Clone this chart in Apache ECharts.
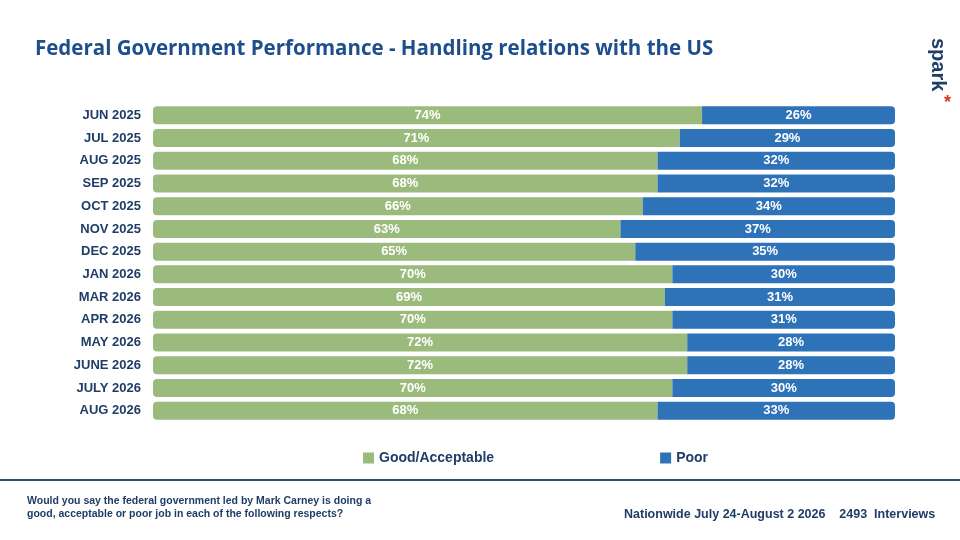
<!DOCTYPE html>
<html>
<head>
<meta charset="utf-8">
<script src="https://cdn.jsdelivr.net/npm/echarts@6/dist/echarts.min.js"></script>
<style>
  html, body { margin: 0; padding: 0; background: #fff; }
  #container { width: 960px; height: 540px; }
</style>
</head>
<body>
<div id="container"></div>
<script>
// 数据
var months = ["JUN 2025", "JUL 2025", "AUG 2025", "SEP 2025", "OCT 2025", "NOV 2025", "DEC 2025",
    "JAN 2026", "MAR 2026", "APR 2026", "MAY 2026", "JUNE 2026", "JULY 2026", "AUG 2026"];
var good = [74, 71, 68, 68, 66, 63, 65, 70, 69, 70, 72, 72, 70, 68];
var poor = [26, 29, 32, 32, 34, 37, 35, 30, 31, 31, 28, 28, 30, 33];

// 蓝色部分填满剩余宽度，标签显示原始值
var goodData = good.map(function (v) { return { value: v, raw: v }; });
var poorData = poor.map(function (v, i) { return { value: 100 - good[i], raw: v }; });

var dom = document.getElementById("container");
var myChart = echarts.init(dom);
var label = {
    show: true,
    position: 'inside',
    color: '#fff',
    fontFamily: 'Liberation Sans',
    fontWeight: 'bold',
    fontSize: 13,
    formatter: function (p) { return p.data.raw + '%'; }
};
var option = {
    animation: false,
    title: {
        text: 'Federal Government Performance - Handling relations with the US',
        left: 30, top: 34,
        textStyle: { color: '#1f4e8c', fontSize: 20.5, fontWeight: 'bold', fontFamily: 'Open Sans' }
    },
    legend: {
        top: 446, left: 358, itemGap: 166,
        icon: 'rect', itemWidth: 11, itemHeight: 11,
        textStyle: { color: '#1f3d66', fontSize: 14, fontWeight: 'bold', fontFamily: 'Liberation Sans' },
        data: ['Good/Acceptable', 'Poor']
    },
    grid: { left: 153, right: 65, top: 104, bottom: 118 },
    xAxis: { type: 'value', min: 0, max: 100, show: false },
    yAxis: {
        type: 'category', inverse: true, data: months,
        axisLine: { show: false }, axisTick: { show: false },
        axisLabel: { color: '#1f3d66', fontWeight: 'bold', fontSize: 13, fontFamily: 'Liberation Sans', margin: 12 }
    },
    series: [
        {
            name: 'Good/Acceptable', type: 'bar', stack: 'a', barWidth: 18,
            data: goodData, label: label,
            itemStyle: { color: '#9bbb7d', borderRadius: [4, 0, 0, 4] }
        },
        {
            name: 'Poor', type: 'bar', stack: 'a', barWidth: 18,
            data: poorData, label: label,
            itemStyle: { color: '#2e72b8', borderRadius: [0, 4, 4, 0] }
        }
    ],
    graphic: [
        { type: 'rect', shape: { x: 0, y: 479, width: 960, height: 2 }, style: { fill: '#2f4f70' } },
        { type: 'text', left: 27, top: 495,
          style: { text: 'Would you say the federal government led by Mark Carney is doing a\ngood, acceptable or poor job in each of the following respects?',
                   fill: '#1f3d66', font: 'bold 10.5px Liberation Sans', lineHeight: 13 } },
        { type: 'text', left: 624, top: 508,
          style: { text: 'Nationwide July 24-August 2 2026    2493  Interviews', fill: '#1f3d66', font: 'bold 12.5px Liberation Sans' } },
        { type: 'text', x: 948, y: 38, rotation: -Math.PI / 2,
          style: { text: 'spark', fill: '#1f3d66', font: 'bold 20px Liberation Sans' } },
        { type: 'text', x: 944, y: 94,
          style: { text: '*', fill: '#d9342b', font: 'bold 18px Liberation Sans' } }
    ]
};
myChart.setOption(option);
</script>
</body>
</html>
